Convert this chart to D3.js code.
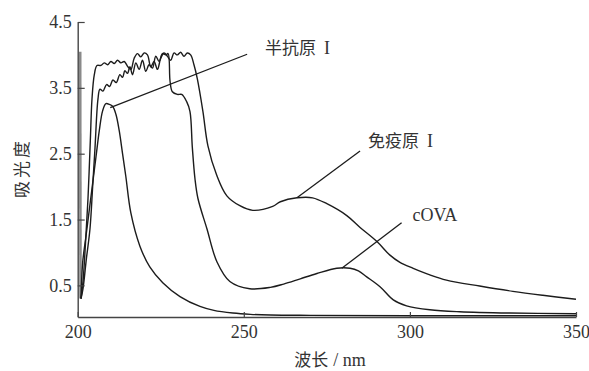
<!DOCTYPE html>
<html>
<head>
<meta charset="utf-8">
<script src="https://cdn.jsdelivr.net/npm/d3@7"></script>
<style>
  body { margin: 0; background: #fff; }
  svg { display: block; }
</style>
</head>
<body>
<svg class="chart"></svg>
<script>
//Chart size
const width = 589;
const height = 371;

//Tick labels
const xTicks = [200, 250, 300, 350];
const yTicks = [0.5, 1.5, 2.5, 3.5, 4.5];

//Series labels: [CJK part, latin part]
const seriesNames = [['半抗原', 'I'], ['免疫原', 'I'], ['', 'cOVA']];

//半抗原 I (narrow peak near 208 nm)
const haptenNm = [201.0, 201.5, 202.5, 203.5, 204.5, 205.5, 206.5, 207.5, 208.5, 209.5, 210.5, 211.5, 212.5, 213.5, 214.5, 216.0, 218.7, 221.7, 225.6, 230.8, 236.8, 241.0, 246.7, 252.0, 258.0, 270, 300, 350];
const haptenAbs = [0.3, 0.85, 1.25, 1.65, 2.05, 2.45, 2.85, 3.15, 3.26, 3.25, 3.22, 3.1, 2.85, 2.5, 2.15, 1.6, 1.1, 0.78, 0.54, 0.33, 0.18, 0.12, 0.08, 0.06, 0.05, 0.045, 0.04, 0.04];

//免疫原 I (saturated, shoulder near 266 nm)
const immunogenNm = [201.0, 201.6, 202.3, 203.1, 203.8, 204.3, 205.0, 205.8, 207, 208, 209, 210, 211, 212, 213, 214, 215.1, 216, 217, 218, 219, 220, 221, 222, 223, 224, 225, 226, 227, 228, 229, 230, 231, 232, 233, 234, 235, 236, 237.7, 239.2, 241.8, 244.9, 248.8, 252.7, 258.7, 261, 266, 270.7, 275, 281, 285, 290, 294, 297, 301, 306, 311, 321, 331, 340, 350];
const immunogenAbs = [0.3, 0.56, 1.1, 1.82, 2.7, 3.33, 3.7, 3.84, 3.84, 3.88, 3.85, 3.9, 3.87, 3.92, 3.88, 3.9, 3.82, 3.78, 3.95, 4.02, 3.97, 4.03, 4.0, 3.82, 3.9, 3.78, 3.95, 4.03, 3.98, 3.92, 4.03, 4.0, 4.04, 3.98, 4.03, 4.0, 3.85, 3.64, 3.14, 2.62, 2.18, 1.86, 1.71, 1.64, 1.7, 1.77, 1.83, 1.83, 1.74, 1.56, 1.38, 1.17, 0.96, 0.85, 0.76, 0.66, 0.58, 0.49, 0.41, 0.35, 0.29];

//cOVA (plateau, small band near 280 nm)
const covaNm = [201.0, 201.6, 202.6, 203.7, 204.5, 205.2, 206.1, 206.7, 207.6, 208.7, 209.6, 210.6, 211.6, 212.7, 213.5, 214.2, 215.0, 215.7, 216.5, 217.5, 218.5, 219.5, 220.5, 221.5, 222.5, 223.5, 224.5, 225.5, 226.5, 227.2, 227.8, 228.5, 230, 231.3, 232.8, 233.8, 234.5, 235.3, 236.2, 238.9, 241.9, 245.8, 251.8, 258, 262, 267, 272, 278, 282, 284.5, 287, 291, 295, 299, 306, 315, 330, 350];
const covaAbs = [0.3, 0.45, 0.9, 1.36, 2.0, 2.58, 3.33, 3.48, 3.45, 3.55, 3.52, 3.62, 3.58, 3.7, 3.66, 3.76, 3.72, 3.82, 3.7, 3.88, 3.78, 3.92, 3.75, 3.85, 3.8, 3.98, 3.9, 4.02, 4.0, 4.02, 3.6, 3.44, 3.4, 3.4, 3.29, 3.14, 2.6, 2.12, 1.82, 1.36, 0.86, 0.56, 0.45, 0.47, 0.52, 0.6, 0.68, 0.76, 0.76, 0.72, 0.63, 0.48, 0.28, 0.19, 0.13, 0.1, 0.08, 0.07];

//Solvent spike at the start of the scan
const spikeNm = [200.75, 200.85];
const spikeAbs = [4.05, 0.3];

//Leader lines: [label end, curve end] in data units
const leaderNm = [[251, 209.8], [285, 266], [297.5, 279.5]];
const leaderAbs = [[4.01, 3.2], [2.54, 1.83], [1.45, 0.76]];

const svg = d3.select('.chart').attr('width', width).attr('height', height);

const x = d3.scaleLinear().domain([200, 350]).range([77.7, 576]);
const y = d3.scaleLinear().domain([0.02, 4.5]).range([317, 22]);

const zip = (a, b) => a.map((v, i) => [v, b[i]]);

const serif = '"Liberation Serif", "DejaVu Serif", serif';
const cjk = '"Noto Sans CJK SC", sans-serif';

const line = d3
  .line()
  .x(d => x(d[0]))
  .y(d => y(d[1]))
  .curve(d3.curveCatmullRom.alpha(0.5));

//Spike drawn first so the curves sit on top
svg
  .append('path')
  .attr('d', d3.line().x(d => x(d[0])).y(d => y(d[1]))(zip(spikeNm, spikeAbs)))
  .attr('fill', 'none')
  .attr('stroke', '#8a8a8a')
  .attr('stroke-width', 2.6);

const series = [
  zip(haptenNm, haptenAbs),
  zip(immunogenNm, immunogenAbs),
  zip(covaNm, covaAbs)
];

svg
  .selectAll('path.curve')
  .data(series)
  .enter()
  .append('path')
  .attr('class', 'curve')
  .attr('d', line)
  .attr('fill', 'none')
  .attr('stroke', '#1c1c1c')
  .attr('stroke-width', 1.4);

//Axes
const xAxis = d3.axisBottom(x).tickValues(xTicks).tickSize(-5).tickSizeOuter(0).tickPadding(8);
const yAxis = d3
  .axisLeft(y)
  .tickValues(yTicks)
  .tickSize(-7)
  .tickSizeOuter(0)
  .tickPadding(6)
  .tickFormat(d3.format('.1f'));

const gx = svg.append('g').attr('transform', `translate(0,${y.range()[0]})`).call(xAxis);
const gy = svg.append('g').attr('transform', `translate(${x.range()[0]},0)`).call(yAxis);

[gx, gy].forEach(g => {
  g.select('.domain').attr('stroke', '#444').attr('stroke-width', 1.4);
  g.selectAll('.tick line').attr('stroke', '#444').attr('stroke-width', 1.2);
  g.selectAll('.tick text')
    .attr('fill', '#333')
    .style('font-family', serif)
    .style('font-size', '18px');
});

//Leader lines and labels
svg
  .selectAll('line.leader')
  .data(leaderNm)
  .enter()
  .append('line')
  .attr('class', 'leader')
  .attr('x1', (d, i) => x(d[0]))
  .attr('y1', (d, i) => y(leaderAbs[i][0]))
  .attr('x2', (d, i) => x(d[1]))
  .attr('y2', (d, i) => y(leaderAbs[i][1]))
  .attr('stroke', '#1c1c1c')
  .attr('stroke-width', 1.3);

const labels = svg
  .selectAll('text.series-label')
  .data(seriesNames)
  .enter()
  .append('text')
  .attr('class', 'series-label')
  .attr('x', (d, i) => x(leaderNm[i][0]) + [18, 8, 11][i])
  .attr('y', (d, i) => y(leaderAbs[i][0]) + [0, -4, -2][i])
  .attr('fill', '#333');

labels
  .append('tspan')
  .style('font-family', cjk)
  .style('font-size', '17px')
  .text(d => d[0]);

labels
  .append('tspan')
  .attr('dx', d => (d[0] ? 8 : 0))
  .style('font-family', serif)
  .style('font-size', '18px')
  .text(d => d[1]);

//Axis titles
svg
  .append('text')
  .attr('transform', 'translate(28,168) rotate(-90)')
  .attr('text-anchor', 'middle')
  .attr('fill', '#333')
  .style('font-family', cjk)
  .style('font-size', '17px')
  .style('letter-spacing', '3px')
  .text('吸光度');

const xTitle = svg
  .append('text')
  .attr('x', 330)
  .attr('y', 366)
  .attr('text-anchor', 'middle')
  .attr('fill', '#333');

xTitle.append('tspan').style('font-family', cjk).style('font-size', '17px').text('波长');
xTitle.append('tspan').attr('dx', 5).style('font-family', serif).style('font-size', '18px').text('/ nm');
</script>
</body>
</html>
